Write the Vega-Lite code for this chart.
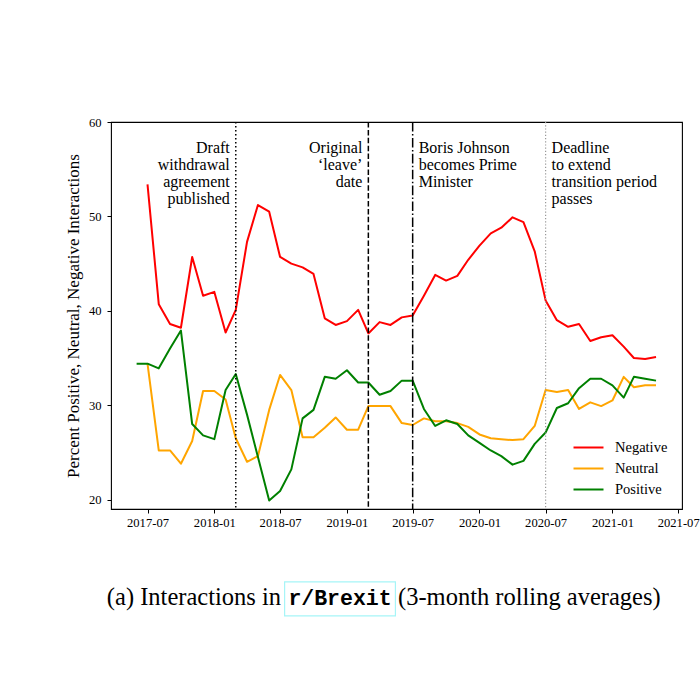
{
  "$schema": "https://vega.github.io/schema/vega-lite/v6.json",
  "width": 571,
  "height": 387,
  "autosize": {"type": "none"},
  "padding": {"left": 111, "top": 122, "right": 18, "bottom": 191},
  "background": "white",
  "config": {
    "font": "Liberation Serif",
    "view": {"stroke": "black", "strokeWidth": 1.1},
    "axis": {
      "grid": false,
      "domain": false,
      "tickColor": "black",
      "tickSize": 4,
      "tickWidth": 1,
      "labelColor": "black",
      "labelFont": "Liberation Serif",
      "labelFontSize": 12.6,
      "titleFont": "Liberation Serif",
      "titleFontWeight": "normal",
      "titleColor": "black"
    }
  },
  "datasets": {
    "sentiment": [
      {"date": "2017-07-01", "series": "Negative", "value": 53.4},
      {"date": "2017-08-01", "series": "Negative", "value": 40.7},
      {"date": "2017-09-01", "series": "Negative", "value": 38.6},
      {"date": "2017-10-01", "series": "Negative", "value": 38.2},
      {"date": "2017-11-01", "series": "Negative", "value": 45.7},
      {"date": "2017-12-01", "series": "Negative", "value": 41.6},
      {"date": "2018-01-01", "series": "Negative", "value": 42.0},
      {"date": "2018-02-01", "series": "Negative", "value": 37.7},
      {"date": "2018-03-01", "series": "Negative", "value": 40.1},
      {"date": "2018-04-01", "series": "Negative", "value": 47.3},
      {"date": "2018-05-01", "series": "Negative", "value": 51.2},
      {"date": "2018-06-01", "series": "Negative", "value": 50.5},
      {"date": "2018-07-01", "series": "Negative", "value": 45.7},
      {"date": "2018-08-01", "series": "Negative", "value": 45.0},
      {"date": "2018-09-01", "series": "Negative", "value": 44.6},
      {"date": "2018-10-01", "series": "Negative", "value": 43.9},
      {"date": "2018-11-01", "series": "Negative", "value": 39.2},
      {"date": "2018-12-01", "series": "Negative", "value": 38.5},
      {"date": "2019-01-01", "series": "Negative", "value": 38.9},
      {"date": "2019-02-01", "series": "Negative", "value": 40.1},
      {"date": "2019-03-01", "series": "Negative", "value": 37.6},
      {"date": "2019-04-01", "series": "Negative", "value": 38.8},
      {"date": "2019-05-01", "series": "Negative", "value": 38.5},
      {"date": "2019-06-01", "series": "Negative", "value": 39.3},
      {"date": "2019-07-01", "series": "Negative", "value": 39.5},
      {"date": "2019-08-01", "series": "Negative", "value": 41.6},
      {"date": "2019-09-01", "series": "Negative", "value": 43.8},
      {"date": "2019-10-01", "series": "Negative", "value": 43.2},
      {"date": "2019-11-01", "series": "Negative", "value": 43.7},
      {"date": "2019-12-01", "series": "Negative", "value": 45.4},
      {"date": "2020-01-01", "series": "Negative", "value": 46.9},
      {"date": "2020-02-01", "series": "Negative", "value": 48.2},
      {"date": "2020-03-01", "series": "Negative", "value": 48.8},
      {"date": "2020-04-01", "series": "Negative", "value": 49.9},
      {"date": "2020-05-01", "series": "Negative", "value": 49.4},
      {"date": "2020-06-01", "series": "Negative", "value": 46.3},
      {"date": "2020-07-01", "series": "Negative", "value": 41.1},
      {"date": "2020-08-01", "series": "Negative", "value": 39.0},
      {"date": "2020-09-01", "series": "Negative", "value": 38.3},
      {"date": "2020-10-01", "series": "Negative", "value": 38.6},
      {"date": "2020-11-01", "series": "Negative", "value": 36.8},
      {"date": "2020-12-01", "series": "Negative", "value": 37.2},
      {"date": "2021-01-01", "series": "Negative", "value": 37.4},
      {"date": "2021-02-01", "series": "Negative", "value": 36.2},
      {"date": "2021-03-01", "series": "Negative", "value": 35.0},
      {"date": "2021-04-01", "series": "Negative", "value": 34.9},
      {"date": "2021-05-01", "series": "Negative", "value": 35.1},

      {"date": "2017-07-01", "series": "Neutral", "value": 34.4},
      {"date": "2017-08-01", "series": "Neutral", "value": 25.2},
      {"date": "2017-09-01", "series": "Neutral", "value": 25.2},
      {"date": "2017-10-01", "series": "Neutral", "value": 23.8},
      {"date": "2017-11-01", "series": "Neutral", "value": 26.2},
      {"date": "2017-12-01", "series": "Neutral", "value": 31.5},
      {"date": "2018-01-01", "series": "Neutral", "value": 31.5},
      {"date": "2018-02-01", "series": "Neutral", "value": 30.6},
      {"date": "2018-03-01", "series": "Neutral", "value": 26.5},
      {"date": "2018-04-01", "series": "Neutral", "value": 24.0},
      {"date": "2018-05-01", "series": "Neutral", "value": 24.6},
      {"date": "2018-06-01", "series": "Neutral", "value": 29.5},
      {"date": "2018-07-01", "series": "Neutral", "value": 33.2},
      {"date": "2018-08-01", "series": "Neutral", "value": 31.6},
      {"date": "2018-09-01", "series": "Neutral", "value": 26.6},
      {"date": "2018-10-01", "series": "Neutral", "value": 26.6},
      {"date": "2018-11-01", "series": "Neutral", "value": 27.6},
      {"date": "2018-12-01", "series": "Neutral", "value": 28.7},
      {"date": "2019-01-01", "series": "Neutral", "value": 27.4},
      {"date": "2019-02-01", "series": "Neutral", "value": 27.4},
      {"date": "2019-03-01", "series": "Neutral", "value": 29.9},
      {"date": "2019-04-01", "series": "Neutral", "value": 29.9},
      {"date": "2019-05-01", "series": "Neutral", "value": 29.9},
      {"date": "2019-06-01", "series": "Neutral", "value": 28.1},
      {"date": "2019-07-01", "series": "Neutral", "value": 27.9},
      {"date": "2019-08-01", "series": "Neutral", "value": 28.6},
      {"date": "2019-09-01", "series": "Neutral", "value": 28.3},
      {"date": "2019-10-01", "series": "Neutral", "value": 28.3},
      {"date": "2019-11-01", "series": "Neutral", "value": 28.1},
      {"date": "2019-12-01", "series": "Neutral", "value": 27.7},
      {"date": "2020-01-01", "series": "Neutral", "value": 26.9},
      {"date": "2020-02-01", "series": "Neutral", "value": 26.5},
      {"date": "2020-03-01", "series": "Neutral", "value": 26.4},
      {"date": "2020-04-01", "series": "Neutral", "value": 26.3},
      {"date": "2020-05-01", "series": "Neutral", "value": 26.4},
      {"date": "2020-06-01", "series": "Neutral", "value": 27.8},
      {"date": "2020-07-01", "series": "Neutral", "value": 31.6},
      {"date": "2020-08-01", "series": "Neutral", "value": 31.4},
      {"date": "2020-09-01", "series": "Neutral", "value": 31.6},
      {"date": "2020-10-01", "series": "Neutral", "value": 29.6},
      {"date": "2020-11-01", "series": "Neutral", "value": 30.3},
      {"date": "2020-12-01", "series": "Neutral", "value": 29.9},
      {"date": "2021-01-01", "series": "Neutral", "value": 30.5},
      {"date": "2021-02-01", "series": "Neutral", "value": 33.0},
      {"date": "2021-03-01", "series": "Neutral", "value": 31.9},
      {"date": "2021-04-01", "series": "Neutral", "value": 32.1},
      {"date": "2021-05-01", "series": "Neutral", "value": 32.1},

      {"date": "2017-06-01", "series": "Positive", "value": 34.4},
      {"date": "2017-07-01", "series": "Positive", "value": 34.4},
      {"date": "2017-08-01", "series": "Positive", "value": 33.9},
      {"date": "2017-09-01", "series": "Positive", "value": 36.0},
      {"date": "2017-10-01", "series": "Positive", "value": 37.9},
      {"date": "2017-11-01", "series": "Positive", "value": 28.0},
      {"date": "2017-12-01", "series": "Positive", "value": 26.8},
      {"date": "2018-01-01", "series": "Positive", "value": 26.4},
      {"date": "2018-02-01", "series": "Positive", "value": 31.6},
      {"date": "2018-03-01", "series": "Positive", "value": 33.3},
      {"date": "2018-04-01", "series": "Positive", "value": 29.0},
      {"date": "2018-05-01", "series": "Positive", "value": 24.5},
      {"date": "2018-06-01", "series": "Positive", "value": 19.9},
      {"date": "2018-07-01", "series": "Positive", "value": 20.9},
      {"date": "2018-08-01", "series": "Positive", "value": 23.2},
      {"date": "2018-09-01", "series": "Positive", "value": 28.6},
      {"date": "2018-10-01", "series": "Positive", "value": 29.5},
      {"date": "2018-11-01", "series": "Positive", "value": 33.0},
      {"date": "2018-12-01", "series": "Positive", "value": 32.8},
      {"date": "2019-01-01", "series": "Positive", "value": 33.7},
      {"date": "2019-02-01", "series": "Positive", "value": 32.4},
      {"date": "2019-03-01", "series": "Positive", "value": 32.4},
      {"date": "2019-04-01", "series": "Positive", "value": 31.1},
      {"date": "2019-05-01", "series": "Positive", "value": 31.5},
      {"date": "2019-06-01", "series": "Positive", "value": 32.6},
      {"date": "2019-07-01", "series": "Positive", "value": 32.6},
      {"date": "2019-08-01", "series": "Positive", "value": 29.6},
      {"date": "2019-09-01", "series": "Positive", "value": 27.8},
      {"date": "2019-10-01", "series": "Positive", "value": 28.4},
      {"date": "2019-11-01", "series": "Positive", "value": 28.0},
      {"date": "2019-12-01", "series": "Positive", "value": 26.8},
      {"date": "2020-01-01", "series": "Positive", "value": 26.0},
      {"date": "2020-02-01", "series": "Positive", "value": 25.2},
      {"date": "2020-03-01", "series": "Positive", "value": 24.6},
      {"date": "2020-04-01", "series": "Positive", "value": 23.7},
      {"date": "2020-05-01", "series": "Positive", "value": 24.1},
      {"date": "2020-06-01", "series": "Positive", "value": 25.9},
      {"date": "2020-07-01", "series": "Positive", "value": 27.1},
      {"date": "2020-08-01", "series": "Positive", "value": 29.7},
      {"date": "2020-09-01", "series": "Positive", "value": 30.2},
      {"date": "2020-10-01", "series": "Positive", "value": 31.8},
      {"date": "2020-11-01", "series": "Positive", "value": 32.8},
      {"date": "2020-12-01", "series": "Positive", "value": 32.8},
      {"date": "2021-01-01", "series": "Positive", "value": 32.1},
      {"date": "2021-02-01", "series": "Positive", "value": 30.8},
      {"date": "2021-03-01", "series": "Positive", "value": 33.0},
      {"date": "2021-04-01", "series": "Positive", "value": 32.8},
      {"date": "2021-05-01", "series": "Positive", "value": 32.6}
    ]
  },
  "layer": [
    {
      "data": {"name": "sentiment"},
      "mark": {"type": "line", "strokeWidth": 2, "strokeJoin": "round"},
      "encoding": {
        "x": {
          "field": "date",
          "type": "temporal",
          "scale": {
            "type": "utc",
            "nice": false,
            "domain": ["2017-03-22T12:00:00Z", "2021-07-11T12:00:00Z"]
          },
          "axis": {
            "title": null,
            "labelExpr": "utcFormat(datum.value, '%Y-%m')",
            "values": [
              "2017-07-01", "2018-01-01", "2018-07-01", "2019-01-01", "2019-07-01",
              "2020-01-01", "2020-07-01", "2021-01-01", "2021-07-01"
            ],
            "labelPadding": 3
          }
        },
        "y": {
          "field": "value",
          "type": "quantitative",
          "scale": {"domain": [19, 60], "nice": false, "zero": false},
          "axis": {
            "title": "Percent Positive, Neutral, Negative Interactions",
            "values": [20, 30, 40, 50, 60],
            "labelPadding": 6,
            "titlePadding": 6,
            "titleFontSize": 17
          }
        },
        "color": {
          "field": "series",
          "type": "nominal",
          "scale": {
            "domain": ["Negative", "Neutral", "Positive"],
            "range": ["#ff0000", "#ffa500", "#008000"]
          },
          "legend": {
            "title": null,
            "orient": "none",
            "legendX": 463,
            "legendY": 311,
            "symbolType": "M-1.111,0H1.111",
            "symbolSize": 729,
            "symbolStrokeWidth": 2,
            "labelFont": "Liberation Serif",
            "labelFontSize": 14.5,
            "labelColor": "black",
            "labelOffset": 12,
            "rowPadding": 0
          }
        }
      }
    },
    {
      "data": {"values": [{"date": "2018-03-01", "label": "Draft\nwithdrawal\nagreement\npublished"}]},
      "layer": [
        {
          "mark": {"type": "rule", "color": "black", "strokeWidth": 1.5, "strokeDash": [1.5, 2.5]},
          "encoding": {"x": {"field": "date", "type": "temporal"}}
        },
        {
          "mark": {"type": "text", "align": "right", "baseline": "alphabetic", "dx": -6, "fontSize": 16, "lineBreak": "\n", "lineHeight": 17, "color": "black"},
          "encoding": {"x": {"field": "date", "type": "temporal"}, "y": {"datum": 56.7}, "text": {"field": "label"}}
        }
      ]
    },
    {
      "data": {"values": [{"date": "2019-03-01", "label": "Original\n‘leave’\ndate"}]},
      "layer": [
        {
          "mark": {"type": "rule", "color": "black", "strokeWidth": 1.5, "strokeDash": [5.5, 2.4]},
          "encoding": {"x": {"field": "date", "type": "temporal"}}
        },
        {
          "mark": {"type": "text", "align": "right", "baseline": "alphabetic", "dx": -6, "fontSize": 16, "lineBreak": "\n", "lineHeight": 17, "color": "black"},
          "encoding": {"x": {"field": "date", "type": "temporal"}, "y": {"datum": 56.7}, "text": {"field": "label"}}
        }
      ]
    },
    {
      "data": {"values": [{"date": "2019-07-01", "label": "Boris Johnson\nbecomes Prime\nMinister"}]},
      "layer": [
        {
          "mark": {"type": "rule", "color": "black", "strokeWidth": 1.5, "strokeDash": [9.6, 2.4, 1.5, 2.4]},
          "encoding": {"x": {"field": "date", "type": "temporal"}}
        },
        {
          "mark": {"type": "text", "align": "left", "baseline": "alphabetic", "dx": 6, "fontSize": 16, "lineBreak": "\n", "lineHeight": 17, "color": "black"},
          "encoding": {"x": {"field": "date", "type": "temporal"}, "y": {"datum": 56.7}, "text": {"field": "label"}}
        }
      ]
    },
    {
      "data": {"values": [{"date": "2020-07-01", "label": "Deadline\nto extend\ntransition period\npasses"}]},
      "layer": [
        {
          "mark": {"type": "rule", "color": "#999999", "strokeWidth": 1.2, "strokeDash": [1.2, 2]},
          "encoding": {"x": {"field": "date", "type": "temporal"}}
        },
        {
          "mark": {"type": "text", "align": "left", "baseline": "alphabetic", "dx": 6, "fontSize": 16, "lineBreak": "\n", "lineHeight": 17, "color": "black"},
          "encoding": {"x": {"field": "date", "type": "temporal"}, "y": {"datum": 56.7}, "text": {"field": "label"}}
        }
      ]
    },
    {
      "data": {"values": [{"date": "2018-12-13", "pre": "(a) Interactions in", "sub": "r/Brexit", "post": "(3-month rolling averages)"}]},
      "layer": [
        {
          "mark": {"type": "point", "shape": "M-1,-0.307H1V0.307H-1Z", "size": 12277, "filled": false, "stroke": "#a6f5f7", "strokeWidth": 1.2, "opacity": 1},
          "encoding": {
            "x": {"field": "date", "type": "temporal"},
            "y": {"datum": 9.47}
          }
        },
        {
          "mark": {"type": "text", "align": "right", "baseline": "alphabetic", "dx": -59, "fontSize": 24.5, "font": "Liberation Serif", "color": "black"},
          "encoding": {
            "x": {"field": "date", "type": "temporal"},
            "y": {"datum": 8.83},
            "text": {"field": "pre"}
          }
        },
        {
          "mark": {"type": "text", "align": "center", "baseline": "alphabetic", "fontSize": 21.5, "font": "Liberation Mono", "fontWeight": "bold", "color": "black"},
          "encoding": {
            "x": {"field": "date", "type": "temporal"},
            "y": {"datum": 8.83},
            "text": {"field": "sub"}
          }
        },
        {
          "mark": {"type": "text", "align": "left", "baseline": "alphabetic", "dx": 58, "fontSize": 24.5, "font": "Liberation Serif", "color": "black"},
          "encoding": {
            "x": {"field": "date", "type": "temporal"},
            "y": {"datum": 8.83},
            "text": {"field": "post"}
          }
        }
      ]
    }
  ]
}
